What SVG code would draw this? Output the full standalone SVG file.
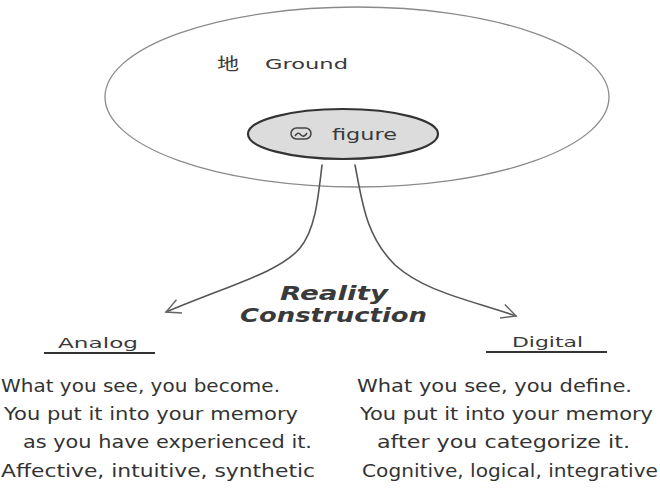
<svg xmlns="http://www.w3.org/2000/svg" width="660" height="497" viewBox="0 0 660 497">
<style>
.lbl{font-family:"DejaVu Sans","Noto Sans CJK JP",sans-serif;fill:#3a3a3a}
.body{font-family:"DejaVu Sans",sans-serif;font-size:18px;fill:#333}
.conn{fill:none;stroke:#555;stroke-width:1.6;stroke-linecap:round}
</style>
<defs>
<marker id="open" viewBox="0 0 20 20" refX="18" refY="10" markerWidth="18" markerHeight="18" markerUnits="userSpaceOnUse" orient="auto">
<path d="M2 2 L18 10 L2 18" fill="none" stroke="#666" stroke-width="1.6"/>
</marker>
</defs>
<rect width="660" height="497" fill="#fff"/>
<g id="ground">
<ellipse cx="357" cy="97" rx="252" ry="90" fill="#fff" stroke="#8a8a8a" stroke-width="1.3"/>
<text class="lbl" x="217" y="70" font-size="17" textLength="22" lengthAdjust="spacingAndGlyphs">地</text>
<text class="lbl" x="265" y="69" font-size="14" textLength="83" lengthAdjust="spacingAndGlyphs">Ground</text>
</g>
<g id="figure">
<ellipse cx="343" cy="134" rx="95" ry="25" fill="#dcdcdc" stroke="#333" stroke-width="2.2"/>
<g fill="none" stroke="#444" stroke-width="1.5">
<rect x="291" y="128" width="20" height="11" rx="5.5"/>
<path d="M295 136 q3 -5 6 -1 q3 3 6 -2"/>
</g>
<text class="lbl" x="332" y="140" font-size="15" textLength="65" lengthAdjust="spacingAndGlyphs">figure</text>
</g>
<g id="connectors">
<path class="conn" d="M322 165 C318 200 315 230 300 248 C280 272 230 285 166 312" marker-end="url(#open)"/>
<path class="conn" d="M355 165 C362 200 365 235 395 265 C425 292 470 300 516 316" marker-end="url(#open)"/>
</g>
<g id="reality">
<text class="lbl" x="280" y="300" font-size="19" font-weight="bold" font-style="italic" fill="#222" textLength="108" lengthAdjust="spacingAndGlyphs">Reality</text>
<text class="lbl" x="240" y="322" font-size="19" font-weight="bold" font-style="italic" fill="#222" textLength="187" lengthAdjust="spacingAndGlyphs">Construction</text>
</g>
<g id="analog">
<text class="lbl" x="58" y="348" font-size="14" textLength="80" lengthAdjust="spacingAndGlyphs">Analog</text>
<line x1="44" y1="353" x2="155" y2="353" stroke="#333" stroke-width="1.8"/>
<text class="body" x="1" y="392" textLength="279" lengthAdjust="spacingAndGlyphs">What you see, you become.</text>
<text class="body" x="4" y="420" textLength="294" lengthAdjust="spacingAndGlyphs">You put it into your memory</text>
<text class="body" x="23" y="448" textLength="289" lengthAdjust="spacingAndGlyphs">as you have experienced it.</text>
<text class="body" x="1" y="477" textLength="314" lengthAdjust="spacingAndGlyphs">Affective, intuitive, synthetic</text>
</g>
<g id="digital">
<text class="lbl" x="512" y="347" font-size="14" textLength="71" lengthAdjust="spacingAndGlyphs">Digital</text>
<line x1="486" y1="352" x2="607" y2="352" stroke="#333" stroke-width="1.8"/>
<text class="body" x="357" y="392" textLength="275" lengthAdjust="spacingAndGlyphs">What you see, you define.</text>
<text class="body" x="360" y="420" textLength="293" lengthAdjust="spacingAndGlyphs">You put it into your memory</text>
<text class="body" x="377" y="448" textLength="253" lengthAdjust="spacingAndGlyphs">after you categorize it.</text>
<text class="body" x="362" y="477" textLength="296" lengthAdjust="spacingAndGlyphs">Cognitive, logical, integrative</text>
</g>
</svg>
